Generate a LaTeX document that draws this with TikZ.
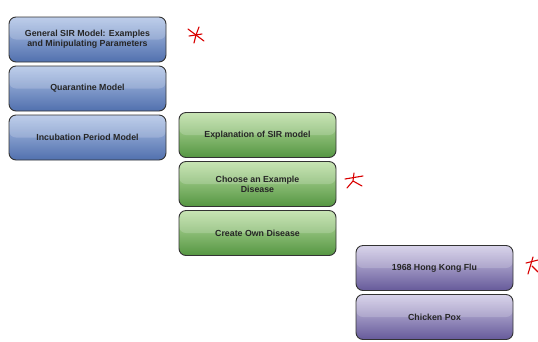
\documentclass[tikz,border=0pt]{standalone}
\usepackage{fontspec}
\setmainfont{Liberation Sans}
\definecolor{bA}{HTML}{AFC3E6}\definecolor{bB}{HTML}{6C89C4}\definecolor{bC}{HTML}{5170AE}
\definecolor{gA}{HTML}{BCDFA4}\definecolor{gB}{HTML}{70B058}\definecolor{gC}{HTML}{559642}
\definecolor{pA}{HTML}{D0CAE6}\definecolor{pB}{HTML}{8074B2}\definecolor{pC}{HTML}{665A9A}
\begin{document}
\begin{tikzpicture}[x=1pt,y=-1pt,
  box/.style={draw=black!80, line width=0.9pt, rounded corners=7pt, minimum width=157pt, minimum height=45pt, align=center, font=\bfseries\fontsize{8.8}{10.2}\selectfont, text=black!85,
    path picture={\fill[white,opacity=0.18] (path picture bounding box.north west) rectangle (path picture bounding box.east);}},
  bluebox/.style={box, top color=bA, middle color=bB, bottom color=bC},
  greenbox/.style={box, top color=gA, middle color=gB, bottom color=gC},
  purplebox/.style={box, top color=pA, middle color=pB, bottom color=pC},
  redmark/.style={red!85!black, line width=1.1pt, line cap=round}]
\useasboundingbox (0,0) rectangle (538,341);
\node[bluebox] (gen) at (87.5,39.5) {General SIR Model: Examples\\and Minipulating Parameters};
\node[bluebox] (quar) at (87.5,88.5) {Quarantine Model};
\node[bluebox] (incu) at (87.5,137.5) {Incubation Period Model};
\node[greenbox] (expl) at (257.5,135) {Explanation of SIR model};
\node[greenbox] (choose) at (257.5,184) {Choose an Example\\Disease};
\node[greenbox] (create) at (257.5,233) {Create Own Disease};
\node[purplebox] (hk) at (434.5,268) {1968 Hong Kong Flu};
\node[purplebox] (cp) at (434.5,317) {Chicken Pox};
% hand-drawn red marks
\coordinate (m1) at (196,35);
\draw[redmark] ([shift={(-8,-6)}]m1) -- ([shift={(8,6)}]m1);
\draw[redmark] ([shift={(-7,1)}]m1) -- ([shift={(6,-1)}]m1);
\draw[redmark] (m1) -- ([shift={(-2,8)}]m1);
\draw[redmark] (m1) -- ([shift={(3,-8)}]m1);
\coordinate (m2) at (354,181);
\draw[redmark] ([shift={(-9,-2)}]m2) -- ([shift={(9,-5)}]m2);
\draw[redmark] ([shift={(0,-8)}]m2) -- ([shift={(-1,0)}]m2) -- ([shift={(-7,7)}]m2);
\draw[redmark] ([shift={(-1,0)}]m2) -- ([shift={(8,5)}]m2);
\coordinate (m3) at (532,266);
\draw[redmark] ([shift={(-6,-3)}]m3) -- ([shift={(6,-6)}]m3);
\draw[redmark] ([shift={(1,-9)}]m3) -- ([shift={(-4,8)}]m3);
\draw[redmark] (m3) -- ([shift={(6,6)}]m3);
\end{tikzpicture}
\end{document}
